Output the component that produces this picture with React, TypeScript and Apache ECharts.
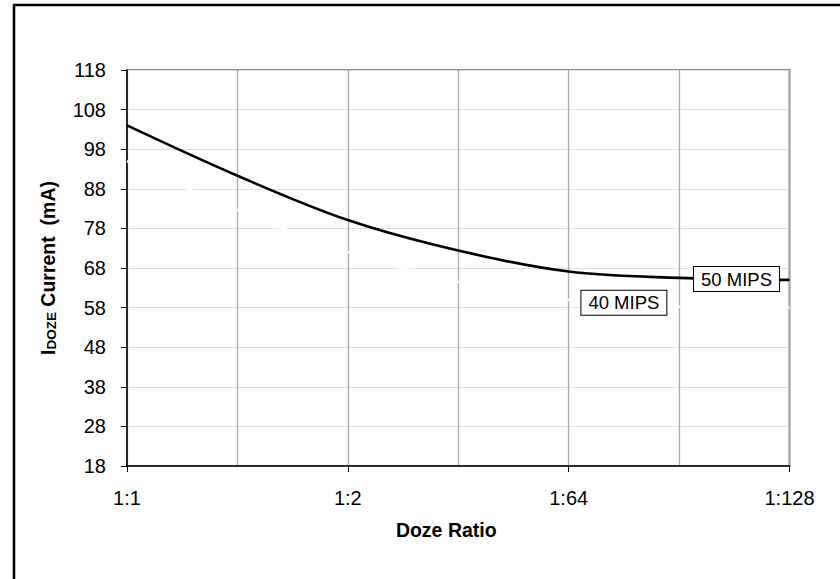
import React, { useEffect, useRef } from "react";
import * as echarts from "echarts";

// ---- data ----
const xPositions = [0, 1, 2, 3, 4, 5, 6];
const xTickLabels = ["1:1", "1:2", "1:64", "1:128"]; // at positions 0, 2, 4, 6
const yMin = 18;
const yMax = 118;
const yStep = 10;
const mips50 = [104, 91.3, 80.1, 72.4, 67.1, 65.5, 65];
const mips40 = [95, 82.6, 72, 64.5, 60, 58.2, 58];
const seriesNames = ["50 MIPS", "40 MIPS"];
const label50At = [5.52, 65.2];
const label40At = [4.5, 59.2];

const FONT = "'Liberation Sans', Arial, Helvetica, sans-serif";

export default function App() {
  const ref = useRef<HTMLDivElement>(null);

  useEffect(() => {
    if (!ref.current) return;
    const chart = echarts.init(ref.current, null, { renderer: "svg" });

    const toAxis = (v: number) => +(v - yMin).toFixed(3);
    const boxLabel = {
      show: true,
      position: "inside",
      color: "#000",
      fontFamily: FONT,
      fontSize: 18.5,
      lineHeight: 18,
      backgroundColor: "#fff",
      borderColor: "#000",
      borderWidth: 1,
      padding: [3, 7, 3, 7],
    };

    chart.setOption({
      animation: false,
      backgroundColor: "#fff",
      textStyle: { fontFamily: FONT },
      grid: {
        left: 127,
        right: 50.5,
        top: 70,
        bottom: 113,
        show: true,
        borderColor: "#8a8a8a",
        borderWidth: 2,
        backgroundColor: "#fff",
      },
      graphic: [
        {
          type: "rect",
          silent: true,
          z: 100,
          shape: { x: 14, y: 5, width: 1000, height: 1000 },
          style: { fill: "none", stroke: "#000", lineWidth: 2.5 },
        },
      ],
      xAxis: {
        type: "value",
        min: 0,
        max: 6,
        interval: 2,
        name: "Doze Ratio",
        nameLocation: "middle",
        nameGap: 54,
        nameTextStyle: {
          fontFamily: FONT,
          fontSize: 19.5,
          fontWeight: "bold",
          color: "#000",
          padding: [0, 24, 0, 0],
        },
        axisLine: { show: true, lineStyle: { color: "#000", width: 1.5 } },
        axisTick: { show: true, length: 6, lineStyle: { color: "#000", width: 1 } },
        axisLabel: {
          margin: 22,
          fontFamily: FONT,
          fontSize: 20,
          color: "#000",
          formatter: (v: number) => xTickLabels[Math.round(v / 2)] ?? "",
        },
        splitLine: { show: true, lineStyle: { color: "#a8a8a8", width: 1.3 } },
        minorTick: { show: false, splitNumber: 2 },
        minorSplitLine: { show: true, lineStyle: { color: "#a8a8a8", width: 1.3 } },
      },
      yAxis: {
        type: "value",
        min: 0,
        max: yMax - yMin,
        interval: yStep,
        name: "{i|I}{s|DOZE}{n| Current  (mA)}",
        nameLocation: "middle",
        nameGap: 69,
        nameTextStyle: {
          color: "#000",
          rich: {
            i: { fontFamily: FONT, fontSize: 19.5, fontWeight: "bold", color: "#000", verticalAlign: "bottom", lineHeight: 19 },
            s: { fontFamily: FONT, fontSize: 13.5, fontWeight: "bold", color: "#000", verticalAlign: "bottom", lineHeight: 17 },
            n: { fontFamily: FONT, fontSize: 19.5, fontWeight: "bold", color: "#000", verticalAlign: "bottom", lineHeight: 19 },
          },
        },
        axisLine: { show: true, lineStyle: { color: "#000", width: 1.5 } },
        axisTick: { show: true, length: 6, lineStyle: { color: "#000", width: 1 } },
        axisLabel: {
          margin: 21,
          fontFamily: FONT,
          fontSize: 20,
          color: "#000",
          formatter: (v: number) => String(Math.round(v + yMin)),
        },
        splitLine: { show: true, lineStyle: { color: "#dedede", width: 1 } },
      },
      series: [
        {
          name: seriesNames[1],
          type: "line",
          smooth: 0.35,
          symbol: "none",
          z: 3,
          lineStyle: { color: "#ffffff", width: 2.5 },
          data: xPositions.map((x, i) => [x, toAxis(mips40[i])]),
          markPoint: {
            symbol: "rect",
            symbolSize: 1,
            itemStyle: { color: "rgba(0,0,0,0)" },
            label: { ...boxLabel, formatter: seriesNames[1] },
            data: [{ coord: [label40At[0], toAxis(label40At[1])] }],
          },
        },
        {
          name: seriesNames[0],
          type: "line",
          smooth: 0.35,
          symbol: "none",
          z: 4,
          lineStyle: { color: "#000000", width: 2.6 },
          data: xPositions.map((x, i) => [x, toAxis(mips50[i])]),
          markPoint: {
            symbol: "rect",
            symbolSize: 1,
            itemStyle: { color: "rgba(0,0,0,0)" },
            label: { ...boxLabel, formatter: seriesNames[0] },
            data: [{ coord: [label50At[0], toAxis(label50At[1])] }],
          },
        },
      ],
    });

    return () => chart.dispose();
  }, []);

  return (
    <div
      ref={ref}
      style={{ position: "fixed", left: 0, top: 0, width: 840, height: 579, background: "#fff" }}
    />
  );
}
